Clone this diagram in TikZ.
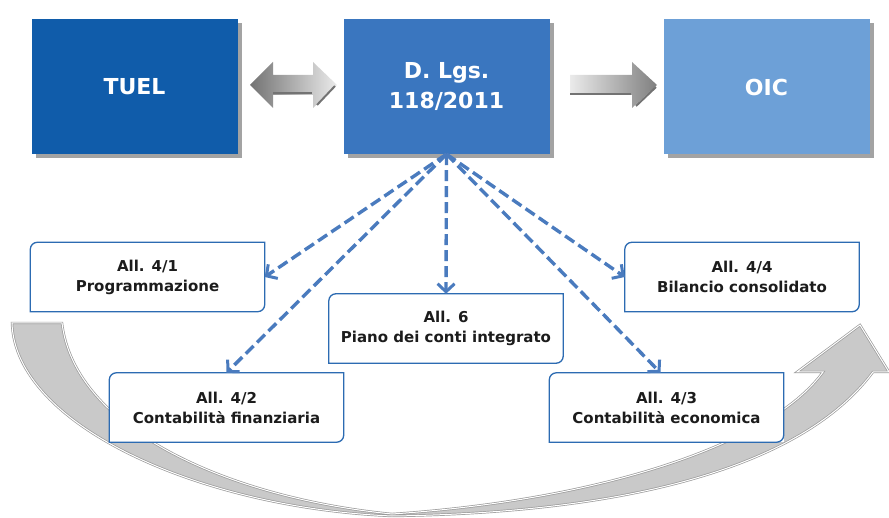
\documentclass[tikz,border=0pt]{standalone}
\usepackage{fontspec}
\setmainfont{DejaVu Sans}
\usetikzlibrary{arrows.meta,shadows}
\definecolor{tuelblue}{HTML}{105CAA}
\definecolor{dlblue}{HTML}{3A76BF}
\definecolor{oicblue}{HTML}{6DA0D7}
\definecolor{dashblue}{HTML}{4A7BBE}
\definecolor{edgeblue}{HTML}{2C6BB2}
\definecolor{txtdark}{HTML}{1C1C1C}
\newcommand\diagedge[1]{\draw[boxedge] ([yshift=-7pt]#1.north west) arc[start angle=180,end angle=90,radius=7pt] -- (#1.north east) -- ([yshift=7pt]#1.south east) arc[start angle=0,end angle=-90,radius=7pt] -- (#1.south west) -- cycle;}
\tikzset{
  bigbox/.style={minimum width=206pt, minimum height=135pt, inner sep=0pt, align=center, text=white,
    font=\fontsize{22}{30}\selectfont\bfseries,
    drop shadow={shadow xshift=4pt, shadow yshift=-4pt, fill=black!45, opacity=0.8}},
  smallbox/.style={minimum width=234pt, minimum height=69pt, inner sep=0pt, align=center, text=txtdark,
    fill=white, font=\fontsize{15}{20}\selectfont\bfseries},
  boxedge/.style={draw=edgeblue, line width=1.3pt},
  dasharrow/.style={draw=dashblue, line width=3.4pt, dash pattern=on 11pt off 5pt,
    -{Straight Barb[length=8pt,width=17pt,line width=3pt]}},
  blockfill/.style={draw=none},
  darkedge/.style={draw=black!55, line width=2pt},
  curveedge/.style={draw=black!40, line width=0.7pt, double=white, double distance=1pt}
}
\begin{document}
\begin{tikzpicture}[x=1pt,y=1pt]
\useasboundingbox (0,0) rectangle (889,-518);
% curved gray arrow
\path[fill=black!21, curveedge] (12,-323) .. controls (15,-425) and (200,-508) .. (392,-516)
  .. controls (620,-513) and (800,-470) .. (873,-372) -- (889,-372) -- (860,-325) -- (797,-372) -- (823,-372)
  .. controls (770,-445) and (600,-500) .. (392,-514)
  .. controls (230,-498) and (75,-430) .. (62,-323) -- cycle;
% big boxes
\node[bigbox, fill=tuelblue] (tuel) at (134.5,-86.5) {TUEL};
\node[bigbox, fill=dlblue] (dl) at (446.5,-86.5) {D. Lgs.\\118/2011};
\node[bigbox, fill=oicblue] (oic) at (766.5,-87) {OIC};
% small boxes
\node[smallbox] (a41) at (147.5,-277) {All. 4/1\\Programmazione};
\node[smallbox] (a6) at (446,-328.5) {All. 6\\Piano dei conti integrato};
\node[smallbox] (a42) at (226.5,-407.5) {All. 4/2\\Contabilità finanziaria};
\node[smallbox] (a44) at (742,-277) {All. 4/4\\Bilancio consolidato};
\node[smallbox] (a43) at (666.5,-407.5) {All. 4/3\\Contabilità economica};
\diagedge{a41}\diagedge{a6}\diagedge{a42}\diagedge{a44}\diagedge{a43}
% double arrow TUEL <-> D.Lgs
\shade[left color=black!55, right color=black!8, blockfill] (250,-85) -- (273,-62) -- (273,-75) -- (313,-75) -- (313,-62) -- (337,-85) -- (313,-108) -- (313,-95) -- (273,-95) -- (273,-108) -- cycle;
\draw[darkedge] (273,-93) -- (312,-93);
\draw[darkedge] (317,-105) -- (335,-86);
% right arrow D.Lgs -> OIC
\shade[left color=black!8, right color=black!50, blockfill] (570,-75) -- (632,-75) -- (632,-62) -- (657,-85) -- (632,-108) -- (632,-95) -- (570,-95) -- cycle;
\draw[darkedge] (570,-94) -- (631,-94);
\draw[darkedge] (636,-106) -- (656,-87);
% dashed arrows
\draw[dasharrow] (dl.south) -- (a41.east);
\draw[dasharrow] (dl.south) -- (a42.north);
\draw[dasharrow] (dl.south) -- (a6.north);
\draw[dasharrow] (dl.south) -- (a44.west);
\draw[dasharrow] (dl.south) -- ([xshift=-6pt]a43.north);
\end{tikzpicture}
\end{document}
